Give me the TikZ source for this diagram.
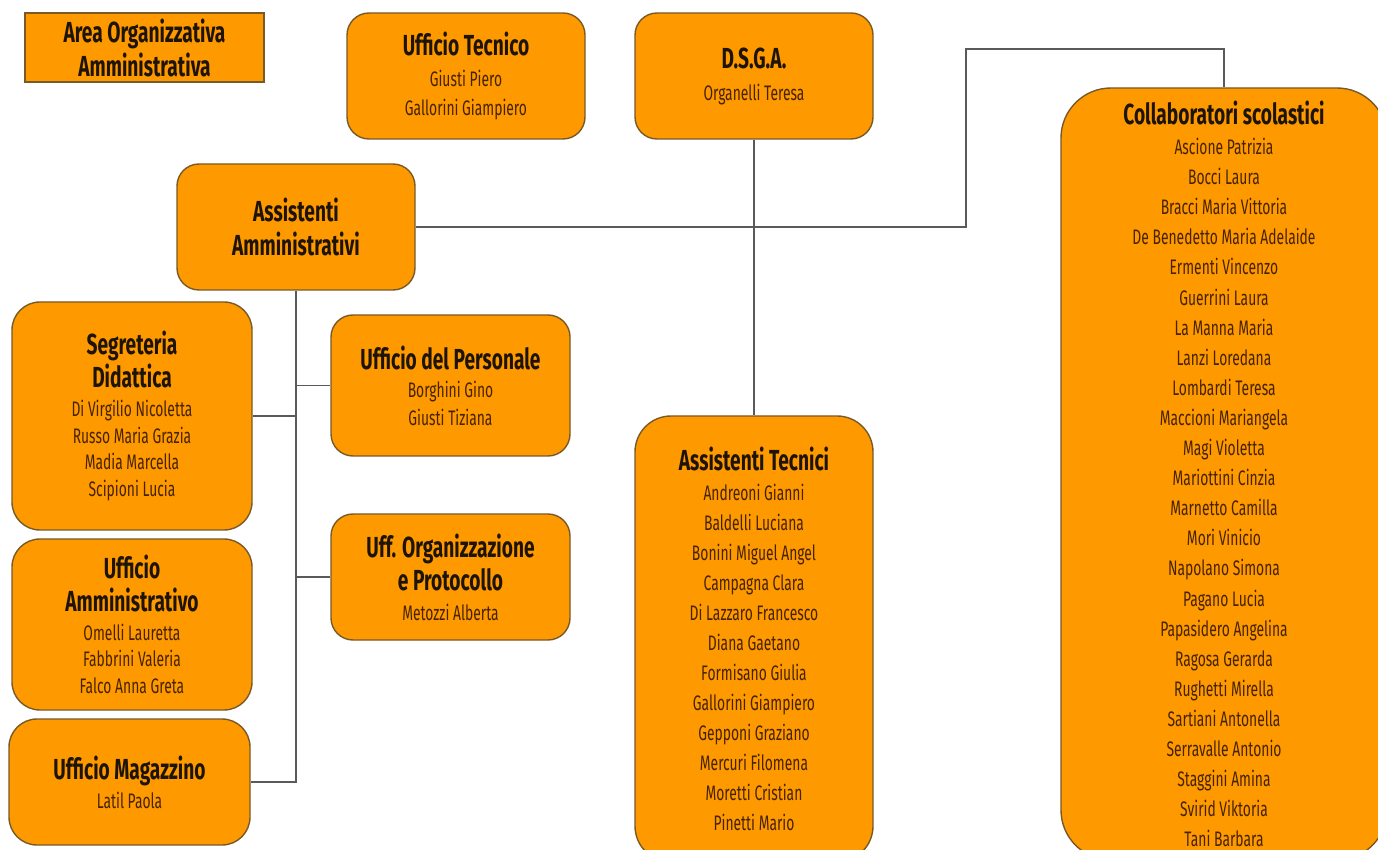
\documentclass[tikz,border=0pt]{standalone}
\usepackage{fontspec}
\setmainfont{Fira Sans}[FakeStretch=0.66]
\usepackage{tikz}
\usepackage{xcolor}
\usetikzlibrary{positioning}
\definecolor{boxorange}{RGB}{255,153,0}
\definecolor{boxborder}{RGB}{120,90,40}
\definecolor{titletext}{RGB}{30,20,5}
\definecolor{nametext}{RGB}{70,35,0}
\definecolor{linkgray}{RGB}{90,90,90}
\newcommand\titolo[1]{{\fontsize{14.5}{17}\selectfont\bfseries\color{titletext}#1}}
\newcommand\nomi[1]{\fontsize{10.5}{#1}\selectfont}
\tikzset{
    ufficio/.style={draw=boxborder, fill=boxorange, line width=0.7pt, rounded corners=11pt,
        align=center, inner sep=0pt, text=nametext},
    areabox/.style={ufficio, rounded corners=0pt},
    link/.style={draw=linkgray, line width=0.8pt}
}

\begin{document}
\begin{tikzpicture}[x=0.5pt,y=-0.5pt]
    \useasboundingbox (0,0) rectangle (1378,850);
    \clip (0,0) rectangle (1378,850);
    \fill[white] (0,0) rectangle (1378,850);

    % Top row
    \node[areabox, minimum width=119.5pt, minimum height=34.5pt, font=\nomi{16.5}] (area) at (144.5,47.5) {
        \titolo{Area Organizzativa}\\[0.5pt] \titolo{Amministrativa}};
    \node[ufficio, minimum width=119pt, minimum height=63pt, font=\nomi{14.5}] (tecnico) at (466,76) {
        \titolo{Ufficio Tecnico}\\[1pt] Giusti Piero\\ Gallorini Giampiero};
    \node[ufficio, minimum width=119pt, minimum height=63pt, font=\nomi{16}] (dsga) at (754,76) {
        \titolo{D.S.G.A.}\\ Organelli Teresa};
    \node[ufficio, minimum width=119pt, minimum height=63pt, font=\nomi{17}] (ammin) at (296,227) {
        \titolo{Assistenti}\\ \titolo{Amministrativi}};

    % Left column
    \node[ufficio, rounded corners=14pt, minimum width=120pt, minimum height=114pt, font=\nomi{13.3}] (segreteria) at (132,416) {
        \titolo{Segreteria}\\[0.5pt] \titolo{Didattica}\\[1pt] Di Virgilio Nicoletta\\ Russo Maria Grazia\\ Madia Marcella\\ Scipioni Lucia};
    \node[ufficio, rounded corners=14pt, minimum width=120pt, minimum height=85.5pt, font=\nomi{13.3}] (amministrativo) at (132,624.5) {
        \titolo{Ufficio}\\[3pt] \titolo{Amministrativo}\\[1pt] Omelli Lauretta\\ Fabbrini Valeria\\ Falco Anna Greta};
    \node[ufficio, rounded corners=14pt, minimum width=120.5pt, minimum height=63pt, font=\nomi{14.5}] (magazzino) at (129.5,782) {
        \titolo{Ufficio Magazzino}\\ Latil Paola};

    % Middle column
    \node[ufficio, minimum width=119.5pt, minimum height=70.5pt, font=\nomi{14}] (personale) at (450.5,385.5) {
        \titolo{Ufficio del Personale}\\ Borghini Gino\\ Giusti Tiziana};
    \node[ufficio, minimum width=119.5pt, minimum height=63pt, font=\nomi{16.5}] (organizzazione) at (450.5,577) {
        \titolo{Uff. Organizzazione}\\ \titolo{e Protocollo}\\[-1.5pt] Metozzi Alberta};
    \node[ufficio, rounded corners=18pt, minimum width=119pt, minimum height=223pt, font=\nomi{15}] (tecnici) at (754,639) {
        \titolo{Assistenti Tecnici}\\ Andreoni Gianni\\ Baldelli Luciana\\ Bonini Miguel Angel\\ Campagna Clara\\
        Di Lazzaro Francesco\\ Diana Gaetano\\ Formisano Giulia\\ Gallorini Giampiero\\ Gepponi Graziano\\
        Mercuri Filomena\\ Moretti Cristian\\ Pinetti Mario};

    % Right column
    \node[ufficio, rounded corners=25pt, minimum width=163pt, minimum height=386pt, font=\nomi{15.05}] (collab) at (1224,474) {
        \titolo{Collaboratori scolastici}\\ Ascione Patrizia\\ Bocci Laura\\ Bracci Maria Vittoria\\
        De Benedetto Maria Adelaide\\ Ermenti Vincenzo\\ Guerrini Laura\\ La Manna Maria\\ Lanzi Loredana\\
        Lombardi Teresa\\ Maccioni Mariangela\\ Magi Violetta\\ Mariottini Cinzia\\ Marnetto Camilla\\
        Mori Vinicio\\ Napolano Simona\\ Pagano Lucia\\ Papasidero Angelina\\ Ragosa Gerarda\\
        Rughetti Mirella\\ Sartiani Antonella\\ Serravalle Antonio\\ Staggini Amina\\ Svirid Viktoria\\
        Tani Barbara};

    % Connectors
    \coordinate (gomito) at (966,49);
    \draw[link] (dsga) -- (tecnici);
    \draw[link] (ammin.east) -| (gomito) -| (collab.north);
    \draw[link] (ammin.south) |- (magazzino.east);
    \draw[link] (ammin.south |- segreteria.east) -- (segreteria.east);
    \draw[link] (ammin.south |- personale.west) -- (personale.west);
    \draw[link] (ammin.south |- organizzazione.west) -- (organizzazione.west);
\end{tikzpicture}
\end{document}
